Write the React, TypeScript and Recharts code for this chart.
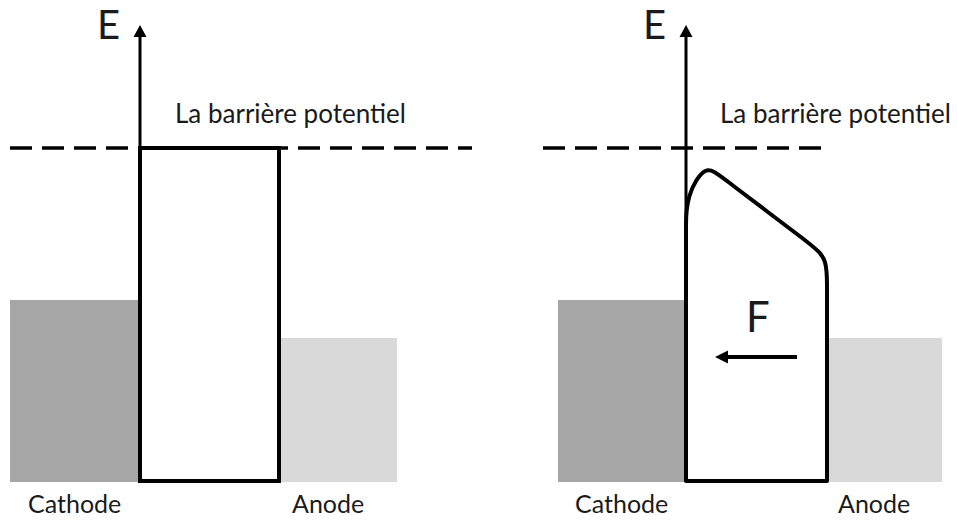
import { ComposedChart, Line, Scatter, XAxis, YAxis, ReferenceArea } from 'recharts'

// x = position along the gap, y = electron energy (0 = bottom of the bands)
const metals = [
  { kind: 'cathode', x1: 10, x2: 138, top: 181 },
  { kind: 'anode', x1: 279, x2: 397, top: 143 },
  { kind: 'cathode', x1: 558, x2: 686, top: 181 },
  { kind: 'anode', x1: 827, x2: 942, top: 143 },
]
const metalFill: Record<string, string> = { cathode: '#a6a6a6', anode: '#d9d9d9' }

// barrière sans champ (rectangle)
const barrierFlat = [
  { x: 210, y: 0 },
  { x: 140, y: 0 },
  { x: 140, y: 333 },
  { x: 279, y: 333 },
  { x: 279, y: 0 },
  { x: 210, y: 0 },
]
// barrière avec champ F : sommet arrondi (spline) + côtés droits
const barrierFieldTop = [
  { x: 686, y: 250 },
  { x: 686, y: 285 },
  { x: 706, y: 318 },
  { x: 722, y: 303 },
  { x: 815, y: 234 },
  { x: 827, y: 222 },
  { x: 827, y: 190 },
]
const barrierFieldSides = [
  { x: 686, y: 250 },
  { x: 686, y: 0 },
  { x: 827, y: 0 },
  { x: 827, y: 190 },
]

const barrierLevelLeft = [
  { x: 10, y: 333 },
  { x: 472, y: 333 },
]
const barrierLevelRight = [
  { x: 543, y: 333 },
  { x: 829, y: 333 },
]

const axisLeft = [
  { x: 140, y: 0 },
  { x: 140, y: 446 },
]
const axisRight = [
  { x: 686, y: 0 },
  { x: 686, y: 446 },
]
const fieldArrow = [
  { x: 797, y: 124 },
  { x: 725, y: 124 },
]
const arrowTips = [
  { x: 140, y: 456, dir: 'up' },
  { x: 686, y: 456, dir: 'up' },
  { x: 715, y: 124, dir: 'left' },
]

const labels = [
  { x: 97, y: 442, text: 'E', size: 40 },
  { x: 643, y: 442, text: 'E', size: 40 },
  { x: 175, y: 358, text: 'La barrière potentiel', size: 26 },
  { x: 720, y: 358, text: 'La barrière potentiel', size: 26 },
  { x: 28, y: -32, text: 'Cathode', size: 25 },
  { x: 575, y: -32, text: 'Cathode', size: 25 },
  { x: 292, y: -32, text: 'Anode', size: 25 },
  { x: 838, y: -32, text: 'Anode', size: 25 },
  { x: 746, y: 149, text: 'F', size: 42 },
]

const ArrowHead = (props: any) => {
  const { cx, cy, payload } = props
  if (payload.dir === 'left') {
    return <polygon points={`${cx},${cy} ${cx + 13},${cy - 6.5} ${cx + 13},${cy + 6.5}`} fill="#000" />
  }
  return <polygon points={`${cx},${cy} ${cx - 6.5},${cy + 12} ${cx + 6.5},${cy + 12}`} fill="#000" />
}

const TextMark = (props: any) => {
  const { cx, cy, payload } = props
  return (
    <text x={cx} y={cy} fontSize={payload.size} fontFamily="Lato, sans-serif" fill="#1a1a1a">
      {payload.text}
    </text>
  )
}

export default function App() {
  return (
    <div style={{ position: 'absolute', left: 0, top: 0, background: '#fff' }}>
      <ComposedChart width={957} height={522} margin={{ top: 0, right: 0, bottom: 0, left: 0 }}>
        <XAxis type="number" dataKey="x" domain={[0, 957]} allowDataOverflow hide />
        <YAxis type="number" dataKey="y" domain={[-41, 481]} allowDataOverflow hide />
        {metals.map((m, i) => (
          <ReferenceArea
            key={i}
            x1={m.x1}
            x2={m.x2}
            y1={-1}
            y2={m.top}
            fill={metalFill[m.kind]}
            fillOpacity={1}
            stroke="none"
          />
        ))}
        <Line data={barrierLevelLeft} dataKey="y" type="linear" stroke="#000" strokeWidth={3.5} strokeDasharray="22 10" dot={false} activeDot={false} isAnimationActive={false} />
        <Line data={barrierLevelRight} dataKey="y" type="linear" stroke="#000" strokeWidth={3.5} strokeDasharray="22 10" dot={false} activeDot={false} isAnimationActive={false} />
        <Line data={axisLeft} dataKey="y" type="linear" stroke="#000" strokeWidth={3} dot={false} activeDot={false} isAnimationActive={false} />
        <Line data={axisRight} dataKey="y" type="linear" stroke="#000" strokeWidth={3} dot={false} activeDot={false} isAnimationActive={false} />
        <Line data={barrierFlat} dataKey="y" type="linear" stroke="#000" strokeWidth={4} strokeLinejoin="miter" dot={false} activeDot={false} isAnimationActive={false} />
        <Line data={barrierFieldSides} dataKey="y" type="linear" stroke="#000" strokeWidth={4} strokeLinejoin="round" dot={false} activeDot={false} isAnimationActive={false} />
        <Line data={barrierFieldTop} dataKey="y" type="basis" stroke="#000" strokeWidth={4} dot={false} activeDot={false} isAnimationActive={false} />
        <Line data={fieldArrow} dataKey="y" type="linear" stroke="#000" strokeWidth={4} dot={false} activeDot={false} isAnimationActive={false} />
        <Scatter data={arrowTips} dataKey="y" shape={ArrowHead} isAnimationActive={false} />
        <Scatter data={labels} dataKey="y" shape={TextMark} isAnimationActive={false} />
      </ComposedChart>
    </div>
  )
}
